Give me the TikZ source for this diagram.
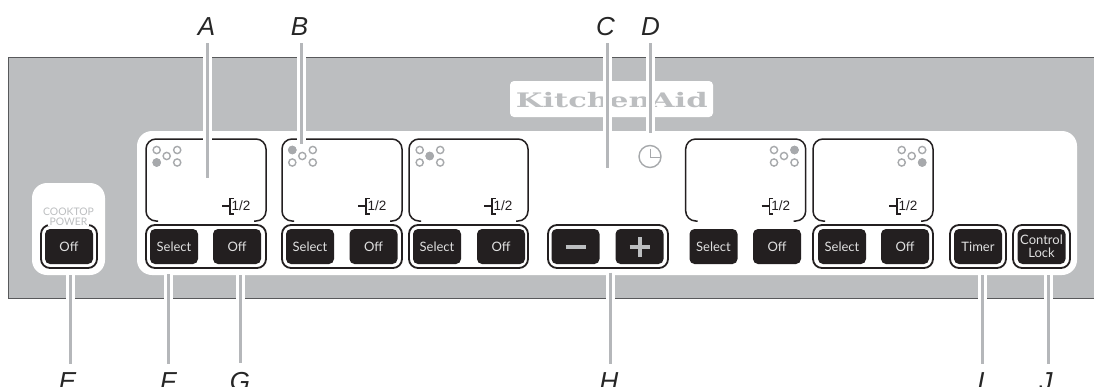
\documentclass[tikz,border=0pt]{standalone}
\usepackage{fontspec}
\setmainfont{Lato}
\newfontfamily\labfont{Liberation Sans}
\newfontfamily\logofont{DejaVu Serif}
\definecolor{panelgray}{HTML}{BCBEC0}
\definecolor{edgegray}{HTML}{58595B}
\definecolor{icongray}{HTML}{A7A9AC}
\definecolor{leadgray}{HTML}{B5B7BA}
\definecolor{keyblack}{HTML}{231F20}
\tikzset{
  keybtn/.style={fill=keyblack,text=white!88!black,rounded corners=5pt,minimum width=48pt,
    minimum height=35pt,inner sep=0pt,font=\fontsize{13}{13}\selectfont},
  ring/.style={draw=keyblack,line width=1.8pt,fill=white,rounded corners=9pt},
  screen/.style={draw=keyblack,line width=1.5pt,rounded corners=10pt},
  burner/.style={draw=icongray,line width=1.4pt},
  leader/.style={draw=white,line width=3pt,double=leadgray,double distance=3pt},
  letter/.style={font=\labfont\itshape\fontsize{26}{26}\selectfont,text=black!85,inner xsep=0pt,anchor=base},
  sign/.style={draw=panelgray,line width=4pt},
}
\begin{document}
\begin{tikzpicture}[x=1pt,y=-1pt]
\useasboundingbox (0,0) rectangle (1094,386);
\clip (0,0) rectangle (1094,386);

% housing
\fill[panelgray] (8.5,57) rectangle (1094,298);
\draw[edgegray,line width=1pt] (1094,57) -- (8.5,57) -- (8.5,298) -- (1094,298);
\fill[white,rounded corners=15pt] (137,131) rectangle (1077,275);
\fill[white,rounded corners=15pt] (32,183) rectangle (105,275);

% logo
\fill[white,rounded corners=4pt] (510,81) rectangle (713,117);
\node[text=panelgray,inner sep=0pt,anchor=base,xscale=1.53,font=\logofont\bfseries\fontsize{20}{20}\selectfont] (brand) at (611.8,107.5) {KitchenAid};

% displays
\foreach \n/\xa/\xb/\ox/\hx/\hy in {1/146/266/156.7/0/162.5,2/282/402/292.3/0/150,3/409/528/419.7/10/156,
  4/685.7/805.7/774/20.5/150,5/813/933/901.7/20.5/162.5} {
  \draw[screen] (\xa+12,221) -- (\xa,221) -- (\xa,139) -- (\xb,139) -- (\xb,221) -- (\xb-12,221);
  \foreach \dx/\py in {0/150,20.5/150,10/156,0/162.5,20.5/162.5}
    \draw[burner] (\ox+\dx,\py) circle (3.6pt);
  \fill[icongray] (\ox+\hx,\hy) circle (4.2pt);
  \draw[keyblack,line width=1.2pt] (\xb-44,206) -- (\xb-36,206);
  \draw[keyblack,line width=1.5pt] (\xb-32.5,198.5) -- (\xb-36,198.5) -- (\xb-36,214) -- (\xb-32.5,214);
  \node[inner sep=0pt,anchor=west,text=keyblack,font=\labfont\fontsize{13.5}{14}\selectfont] (half\n) at (\xb-34.5,206) {1/2};
}

% button rings
\foreach \xa/\xb in {146/266,282/402,409/528,548/668,813/933,41/97,950/1006,1013/1070}
  \draw[ring] (\xa,225) rectangle (\xb,268);

% buttons
\foreach \n/\xs/\xo in {1/174/237,2/310/373.5,3/437/501,4/713.5/777,5/842/905} {
  \node[keybtn] (select\n) at (\xs,246.5) {Select};
  \node[keybtn] (off\n) at (\xo,246.5) {Off};
}
\node[keybtn] (minus) at (575.5,246.5) {};
\node[keybtn] (plus) at (639.5,246.5) {};
\draw[sign] ([xshift=-10pt]minus.center) -- ([xshift=10pt]minus.center);
\draw[sign] ([xshift=-10pt]plus.center) -- ([xshift=10pt]plus.center);
\draw[sign] ([yshift=-10pt]plus.center) -- ([yshift=10pt]plus.center);
\node[keybtn] (poweroff) at (69,246.5) {Off};
\node[keybtn] (timer) at (978,246.5) {Timer};
\node[keybtn,align=center,font=\fontsize{13}{12.5}\selectfont] (lock) at (1041.5,246.5) {Control\\Lock};

% cooktop power caption
\node[text=panelgray,inner sep=0pt,font=\fontsize{10.4}{10.4}\selectfont] (cooktop) at (68.5,212) {COOKTOP};
\node[text=panelgray,fill=white,inner xsep=1.5pt,inner ysep=0pt,font=\fontsize{10.4}{10.4}\selectfont] (power) at (68.5,222) {POWER};

% clock
\draw[burner] (650,156.5) circle (11pt);
\draw[burner] (650.5,148.5) -- (650.5,157.5) -- (660,157.5);

% letters and leaders
\node[letter,inner ysep=7.5pt] (labA) at (206.5,35.5) {A};
\node[letter,inner ysep=7.5pt] (labB) at (299.5,35.5) {B};
\node[letter,inner ysep=7.5pt] (labC) at (605.5,35.5) {C};
\node[letter,inner ysep=7.5pt] (labD) at (650.5,35.5) {D};
\node[letter,inner ysep=9pt] (labE) at (67.5,390.6) {E};
\node[letter,inner ysep=9pt] (labF) at (168,390.6) {F};
\node[letter,inner ysep=9pt] (labG) at (240,390.6) {G};
\node[letter,inner ysep=9pt] (labH) at (609,390.6) {H};
\node[letter,inner ysep=9pt] (labI) at (981,390.6) {I};
\node[letter,inner ysep=9pt] (labJ) at (1046,390.6) {J};
\coordinate (endA) at (207.5,178);
\coordinate (endB) at (301.5,144);
\coordinate (endC) at (607.5,168);
\coordinate (endD) at (650.5,133);
\coordinate (endE) at (70,275);
\coordinate (endF) at (168.5,274);
\coordinate (endG) at (240.5,275);
\coordinate (endH) at (610.5,272.5);
\coordinate (endI) at (982,275);
\coordinate (endJ) at (1048,275);
\foreach \n in {A,B,C,D}
  \draw[leader] (lab\n.south -| end\n) -- (end\n);
\foreach \n in {E,F,G,H,I,J}
  \draw[leader] (end\n) -- (lab\n.north -| end\n);

\end{tikzpicture}
\end{document}
